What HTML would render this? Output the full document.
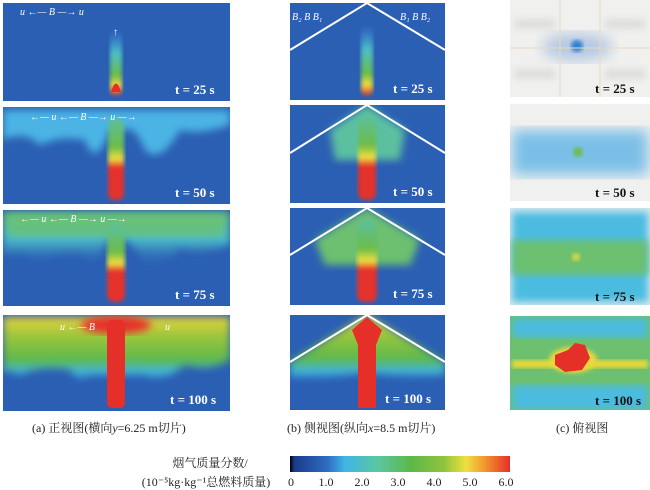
<!DOCTYPE html>
<html><head><meta charset="utf-8"><style>
body{margin:0;background:#fff;width:650px;height:490px;overflow:hidden}
svg{display:block}
.t{font-family:"Liberation Serif",serif;font-weight:bold;font-size:13px;fill:#fff}
.tk{font-family:"Liberation Serif",serif;font-weight:bold;font-size:13px;fill:#111}
.cap{font-family:"Liberation Serif","Noto Serif CJK SC",serif;font-size:12px;fill:#222}
.w{font-family:"Liberation Serif",serif;font-style:italic;font-size:10px;fill:#fff}
</style></head><body>
<svg width="650" height="490" viewBox="0 0 650 490" xmlns="http://www.w3.org/2000/svg">
<defs>
<filter id="b2"><feGaussianBlur stdDeviation="2"/></filter>
<filter id="b4"><feGaussianBlur stdDeviation="4"/></filter>
<filter id="b7"><feGaussianBlur stdDeviation="7"/></filter>
<clipPath id="a1"><rect x="3" y="3" width="227" height="98"/></clipPath>
<clipPath id="a2"><rect x="3" y="107" width="227" height="97"/></clipPath>
<clipPath id="a3"><rect x="3" y="210" width="227" height="96"/></clipPath>
<clipPath id="a4"><rect x="3" y="315" width="227" height="96"/></clipPath>
<clipPath id="p1"><rect x="290" y="3" width="155" height="97"/></clipPath>
<clipPath id="p2"><rect x="290" y="105" width="155" height="98"/></clipPath>
<clipPath id="p3"><rect x="290" y="208" width="155" height="97"/></clipPath>
<clipPath id="p4"><rect x="290" y="315" width="155" height="95"/></clipPath>
<clipPath id="c1"><rect x="510" y="0" width="140" height="97"/></clipPath>
<clipPath id="c2"><rect x="510" y="104" width="140" height="97"/></clipPath>
<clipPath id="c3"><rect x="510" y="208" width="140" height="97"/></clipPath>
<clipPath id="c4"><rect x="510" y="316" width="140" height="94"/></clipPath>
<linearGradient id="cb" x1="0" x2="1">
<stop offset="0" stop-color="#000"/><stop offset="0.02" stop-color="#1a3b8c"/>
<stop offset="0.17" stop-color="#2f6cc0"/><stop offset="0.25" stop-color="#3fb6e6"/>
<stop offset="0.4" stop-color="#5cc6a0"/><stop offset="0.55" stop-color="#5cb84a"/>
<stop offset="0.7" stop-color="#8fc43c"/><stop offset="0.8" stop-color="#f0e040"/>
<stop offset="0.88" stop-color="#f39a30"/><stop offset="1" stop-color="#e5302a"/>
</linearGradient>
<linearGradient id="plume" x1="0" y1="1" x2="0" y2="0">
<stop offset="0" stop-color="#e5302a"/><stop offset="0.15" stop-color="#f0e040"/>
<stop offset="0.3" stop-color="#6cbc48"/><stop offset="0.65" stop-color="#4cc0c8"/>
<stop offset="1" stop-color="#3fa0e0" stop-opacity="0"/>
</linearGradient>
<linearGradient id="plume2" x1="0" y1="1" x2="0" y2="0">
<stop offset="0" stop-color="#e5302a"/><stop offset="0.4" stop-color="#e5302a"/><stop offset="0.5" stop-color="#f0e040"/>
<stop offset="0.65" stop-color="#6cbc48"/><stop offset="1" stop-color="#5cc0a0"/>
</linearGradient>
<linearGradient id="layer4" x1="0" y1="0" x2="0" y2="1">
<stop offset="0" stop-color="#e8d23a"/><stop offset="0.3" stop-color="#9cc63c"/>
<stop offset="0.7" stop-color="#5cb84a"/><stop offset="0.9" stop-color="#3fb6e6"/><stop offset="1" stop-color="#2f6cc0"/>
</linearGradient>
<linearGradient id="layer3" x1="0" y1="0" x2="0" y2="1">
<stop offset="0" stop-color="#6cc070"/><stop offset="0.5" stop-color="#4cc0c8"/><stop offset="1" stop-color="#2f6cc0" stop-opacity="0"/>
</linearGradient>
</defs>

<!-- Column A -->
<g clip-path="url(#a1)">
<rect x="3" y="3" width="227" height="98" fill="#2b5fb3"/>
<rect x="110" y="30" width="12" height="65" rx="5" fill="url(#plume)" filter="url(#b2)"/>
<path d="M111 92 Q116 75 121 92Z" fill="#e5302a"/>
</g>
<text x="20" y="15" class="w">u ←— B —→ u</text>
<text x="113" y="35" class="w">↑</text>
<text x="175" y="94" class="t">t = 25 s</text>

<g clip-path="url(#a2)">
<rect x="3" y="107" width="227" height="97" fill="#2b5fb3"/>
<path d="M3 110 H230 V125 Q200 135 180 130 Q160 165 145 150 Q135 125 125 130 L110 130 Q95 170 85 140 Q60 135 40 145 Q25 130 3 140Z" fill="#4cb4e4" filter="url(#b4)"/>
<rect x="108" y="118" width="16" height="82" rx="6" fill="url(#plume2)" filter="url(#b2)"/>
</g>
<text x="30" y="120" class="w">←— u ←— B —→ u —→</text>
<text x="175" y="197" class="t">t = 50 s</text>

<g clip-path="url(#a3)">
<rect x="3" y="210" width="227" height="96" fill="#2b5fb3"/>
<path d="M3 212 H230 V245 Q200 255 180 248 Q160 270 145 265 Q135 245 125 240 L108 240 Q95 270 85 255 Q60 250 40 260 Q20 250 3 255Z" fill="url(#layer3)" filter="url(#b4)"/>
<rect x="8" y="214" width="215" height="22" fill="#6cc070" opacity="0.7" filter="url(#b4)"/>
<rect x="107" y="225" width="18" height="77" rx="7" fill="url(#plume2)" filter="url(#b2)"/>
</g>
<text x="20" y="222" class="w">←—  u  ←— B —→ u  —→</text>
<text x="175" y="299" class="t">t = 75 s</text>

<g clip-path="url(#a4)">
<rect x="3" y="315" width="227" height="96" fill="#2b5fb3"/>
<path d="M3 317 H230 V360 Q210 372 185 365 Q160 385 145 375 L90 375 Q80 385 70 370 Q40 365 20 375 Q10 370 3 372Z" fill="url(#layer4)" filter="url(#b4)"/>
<ellipse cx="116" cy="325" rx="35" ry="9" fill="#e5302a" filter="url(#b4)"/>
<rect x="107" y="320" width="18" height="88" rx="5" fill="#e5302a"/>
</g>
<text x="60" y="330" class="w">u ←— B</text>
<text x="165" y="330" class="w">u</text>
<text x="170" y="404" class="t">t = 100 s</text>

<!-- Column B -->
<g clip-path="url(#p1)">
<rect x="290" y="3" width="155" height="97" fill="#2b5fb3"/>
<rect x="361" y="25" width="12" height="70" rx="5" fill="url(#plume)" filter="url(#b2)"/>
</g>
<path d="M290 50 L367 3 L445 50" stroke="#fff" stroke-width="2" fill="none"/>
<text x="292" y="20" class="w">B₂ B B₁</text><text x="400" y="20" class="w">B₁ B B₂</text>
<text x="393" y="93" class="t">t = 25 s</text>

<g clip-path="url(#p2)">
<rect x="290" y="105" width="155" height="98" fill="#2b5fb3"/>
<path d="M330 130 L367 105 L405 130 L400 160 L335 160Z" fill="#5cc0a0" filter="url(#b4)"/>
<rect x="358" y="115" width="18" height="85" rx="7" fill="url(#plume2)" filter="url(#b2)"/>
</g>
<path d="M290 153 L367 105 L445 153" stroke="#fff" stroke-width="2" fill="none"/>
<text x="393" y="196" class="t">t = 50 s</text>

<g clip-path="url(#p3)">
<rect x="290" y="208" width="155" height="97" fill="#2b5fb3"/>
<path d="M315 240 L367 208 L420 240 L410 265 L325 265Z" fill="#6cc070" filter="url(#b4)"/>
<rect x="357" y="220" width="20" height="82" rx="7" fill="url(#plume2)" filter="url(#b2)"/>
</g>
<path d="M290 255 L367 208 L445 255" stroke="#fff" stroke-width="2" fill="none"/>
<text x="393" y="298" class="t">t = 75 s</text>

<g clip-path="url(#p4)">
<rect x="290" y="315" width="155" height="95" fill="#2b5fb3"/>
<path d="M290 362 L367 315 L445 362 L445 375 Q400 378 367 372 Q320 380 290 378Z" fill="url(#layer4)" filter="url(#b4)"/>
<path d="M352 330 L367 317 L382 330 L376 345 L376 408 L358 408 L358 345Z" fill="#e5302a"/>
</g>
<path d="M290 362 L367 315 L445 362" stroke="#fff" stroke-width="2" fill="none"/>
<text x="385" y="403" class="t">t = 100 s</text>

<!-- Column C -->
<g clip-path="url(#c1)">
<rect x="510" y="0" width="140" height="97" fill="#f0f0ee"/>
<g fill="#d8d8d8" filter="url(#b4)"><rect x="515" y="20" width="40" height="8"/><rect x="605" y="20" width="40" height="8"/><rect x="515" y="70" width="40" height="8"/><rect x="605" y="70" width="40" height="8"/></g>
<ellipse cx="577" cy="47" rx="35" ry="14" fill="#7aa0d8" opacity="0.5" filter="url(#b7)"/>
<circle cx="577" cy="46" r="6" fill="#2f7fd0" filter="url(#b2)"/>
<g stroke="#e8d8c0" stroke-width="1"><line x1="560" y1="0" x2="560" y2="97"/><line x1="600" y1="0" x2="600" y2="97"/><line x1="510" y1="48" x2="650" y2="48"/></g>
</g>
<text x="595" y="93" class="tk">t = 25 s</text>

<g clip-path="url(#c2)">
<rect x="510" y="104" width="140" height="97" fill="#f0f0ee"/>
<rect x="512" y="130" width="136" height="45" fill="#5fb4e6" opacity="0.8" filter="url(#b7)"/>
<circle cx="578" cy="152" r="5" fill="#6cbc48" filter="url(#b2)"/>
</g>
<text x="595" y="197" class="tk">t = 50 s</text>

<g clip-path="url(#c3)">
<rect x="510" y="208" width="140" height="97" fill="#d8e8ee"/>
<rect x="512" y="212" width="136" height="90" fill="#4cbce0" filter="url(#b4)"/>
<rect x="512" y="240" width="136" height="35" fill="#6cc070" filter="url(#b4)"/>
<circle cx="576" cy="257" r="4" fill="#e0d840" filter="url(#b2)"/>
</g>
<text x="595" y="301" class="tk">t = 75 s</text>

<g clip-path="url(#c4)">
<rect x="510" y="316" width="140" height="94" fill="#6cc070"/>
<rect x="512" y="318" width="136" height="20" fill="#4cbce0" filter="url(#b4)"/>
<rect x="512" y="385" width="136" height="25" fill="#4cbce0" filter="url(#b4)"/>
<rect x="512" y="360" width="136" height="8" fill="#e8d83a" filter="url(#b2)"/>
<ellipse cx="573" cy="360" rx="24" ry="13" fill="#e8d83a" filter="url(#b2)"/>
<path d="M555 355 L568 350 L575 343 L585 345 L590 358 L582 370 L565 372 L555 365Z" fill="#e5302a"/>
</g>
<text x="595" y="405" class="tk">t = 100 s</text>

<text x="32" y="432" class="cap">(a) 正视图(横向<tspan font-style="italic">y</tspan>=6.25 m切片)</text>
<text x="287" y="432" class="cap">(b) 侧视图(纵向<tspan font-style="italic">x</tspan>=8.5 m切片)</text>
<text x="556" y="432" class="cap">(c) 俯视图</text>

<text x="210" y="467" class="cap" text-anchor="middle">烟气质量分数/</text>
<text x="206" y="486" class="cap" text-anchor="middle">(10⁻⁵kg·kg⁻¹总燃料质量)</text>
<rect x="290" y="456" width="220" height="16" fill="url(#cb)"/>
<g class="cap" text-anchor="middle"><text x="291" y="486">0</text><text x="326" y="486">1.0</text><text x="362" y="486">2.0</text><text x="398" y="486">3.0</text><text x="434" y="486">4.0</text><text x="470" y="486">5.0</text><text x="506" y="486">6.0</text></g>
</svg>
</body></html>
